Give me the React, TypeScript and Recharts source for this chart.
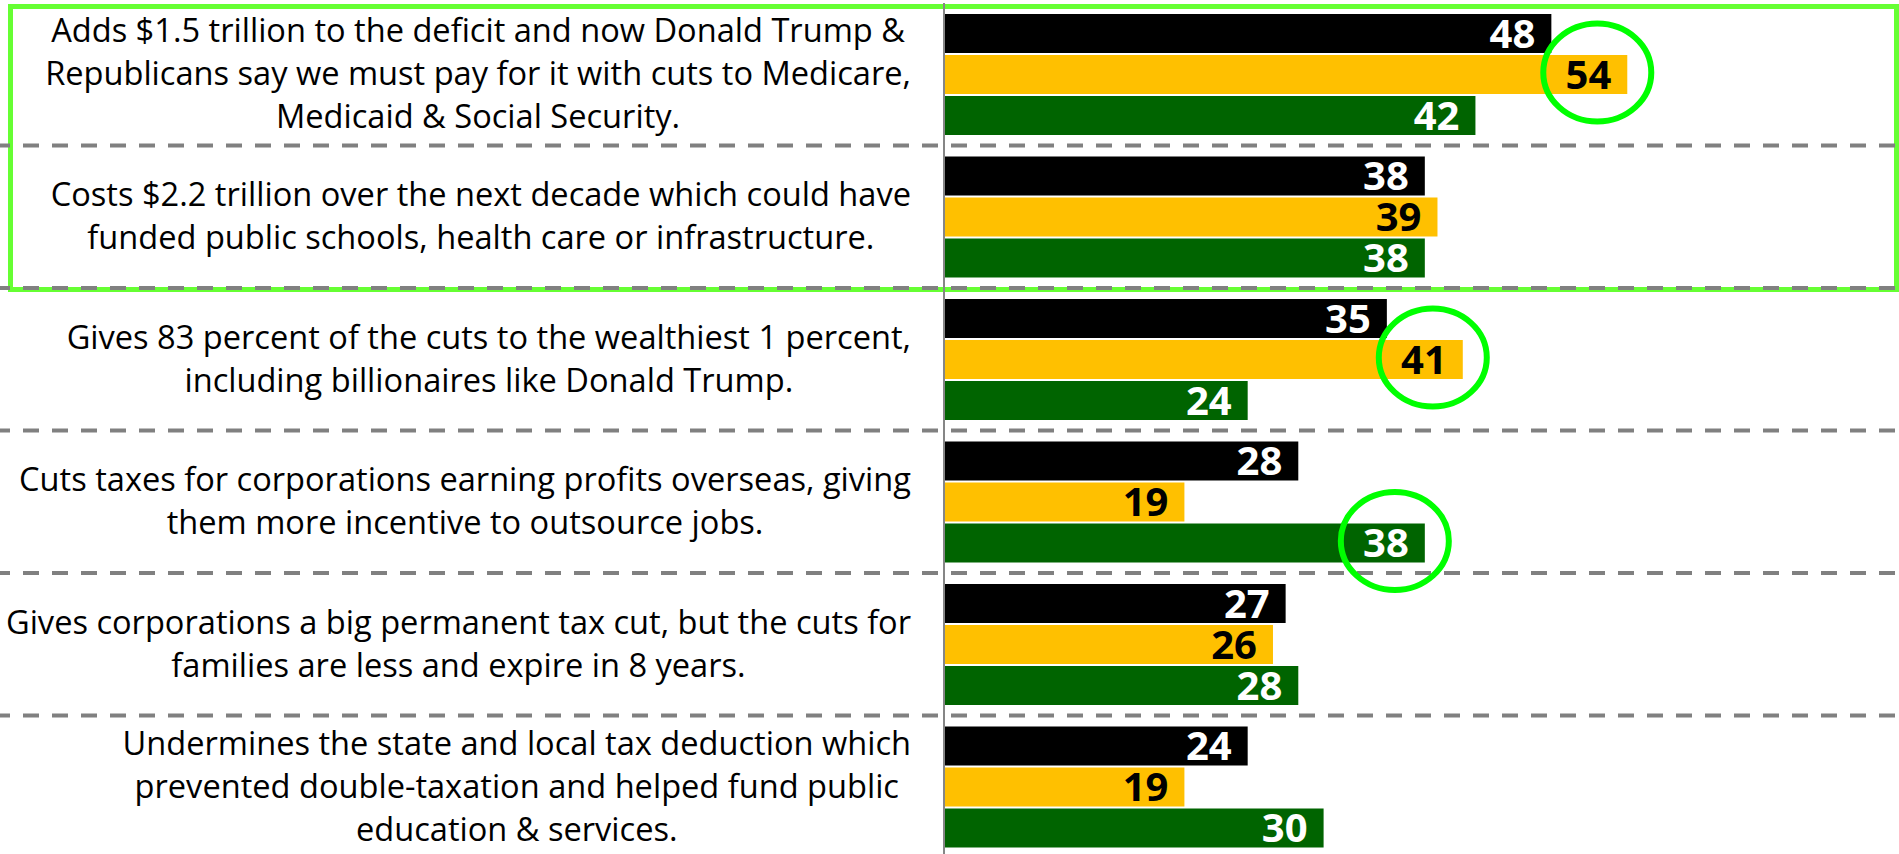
import { BarChart, Bar, XAxis, YAxis, LabelList } from "recharts";

const categories = [
  "Adds $1.5 trillion to the deficit and now Donald Trump &\nRepublicans say we must pay for it with cuts to Medicare,\nMedicaid & Social Security.",
  "Costs $2.2 trillion over the next decade which could have\nfunded public schools, health care or infrastructure.",
  "Gives 83 percent of the cuts to the wealthiest 1 percent,\nincluding billionaires like Donald Trump.",
  "Cuts taxes for corporations earning profits overseas, giving\nthem more incentive to outsource jobs.",
  "Gives corporations a big permanent tax cut, but the cuts for\nfamilies are less and expire in 8 years.",
  "Undermines the state and local tax deduction which\nprevented double-taxation and helped fund public\neducation & services.",
];
const blackValues = [48, 38, 35, 28, 27, 24];
const goldValues = [54, 39, 41, 19, 26, 19];
const greenValues = [42, 38, 24, 38, 28, 30];
// rows whose value gets a green circle
const circledGold = [0, 2];
const circledGreen = [3];

const data = categories.map((label, i) => ({
  label,
  black: blackValues[i],
  gold: goldValues[i],
  green: greenValues[i],
}));

const W = 1899;
const H = 858;
const TOP = 3;
const BAND = (H - TOP) / categories.length;
const LABEL_FONT = 32.6;
const LINE_H = 43;
const LABEL_RIGHT = 911;

const ctx = typeof document !== "undefined" ? document.createElement("canvas").getContext("2d") : null;
function textWidth(s: string) {
  if (!ctx) return s.length * LABEL_FONT * 0.5;
  ctx.font = `${LABEL_FONT}px "Open Sans"`;
  return ctx.measureText(s).width;
}

function CategoryTick(props: any) {
  const { y, payload, index } = props;
  const lines: string[] = String(payload.value).split("\n");
  const boxW = Math.max(...lines.map(textWidth));
  const cx = LABEL_RIGHT - boxW / 2;
  return (
    <g>
      {index < categories.length - 1 && (
        <line
          x1={0}
          x2={W}
          y1={y + BAND / 2}
          y2={y + BAND / 2}
          stroke="#808080"
          strokeWidth={4}
          strokeDasharray="16 13"
          strokeDashoffset={6}
        />
      )}
      <text textAnchor="middle" fontFamily="'Open Sans', sans-serif" fontSize={LABEL_FONT} fill="#000">
        {lines.map((ln, i) => (
          <tspan key={i} x={cx} y={y + (i - (lines.length - 1) / 2) * LINE_H + 11}>
            {ln}
          </tspan>
        ))}
      </text>
    </g>
  );
}

function valueLabel(color: string, circled: number[]) {
  return (props: any) => {
    const { x, y, width, height, value, index } = props;
    const cy = y + height / 2;
    return (
      <g>
        <text
          x={x + width - 16}
          y={cy + 14}
          textAnchor="end"
          fontFamily="'Open Sans', sans-serif"
          fontWeight={700}
          fontSize={40}
          fill={color}
        >
          {value}
        </text>
        {circled.includes(index) && (
          <ellipse cx={x + width - 30} cy={cy - 2} rx={54} ry={49} fill="none" stroke="#00ff00" strokeWidth={6} />
        )}
      </g>
    );
  };
}

export default function App() {
  return (
    <div style={{ position: "absolute", left: 0, top: 0, width: W, height: 854, overflow: "hidden", background: "#fff" }}>
      <div
        style={{
          position: "absolute",
          left: 8,
          top: 4,
          width: W - 8,
          height: 288,
          border: "5px solid #66ff33",
          boxSizing: "border-box",
        }}
      />
      <div style={{ position: "absolute", left: 0, top: 0 }}>
        <BarChart
          width={W}
          height={H}
          data={data}
          layout="vertical"
          margin={{ top: TOP, right: 6, left: 0, bottom: 0 }}
          barCategoryGap={11}
          barGap={2}
        >
          <XAxis type="number" domain={[0, 75]} hide />
          <YAxis
            type="category"
            dataKey="label"
            width={944}
            axisLine={{ stroke: "#868686", strokeWidth: 2 }}
            tickLine={false}
            tick={<CategoryTick />}
            interval={0}
          />
          <Bar dataKey="black" fill="#000000" isAnimationActive={false}>
            <LabelList dataKey="black" content={valueLabel("#ffffff", [])} />
          </Bar>
          <Bar dataKey="gold" fill="#ffc000" isAnimationActive={false}>
            <LabelList dataKey="gold" content={valueLabel("#000000", circledGold)} />
          </Bar>
          <Bar dataKey="green" fill="#006400" isAnimationActive={false}>
            <LabelList dataKey="green" content={valueLabel("#ffffff", circledGreen)} />
          </Bar>
        </BarChart>
      </div>
    </div>
  );
}
